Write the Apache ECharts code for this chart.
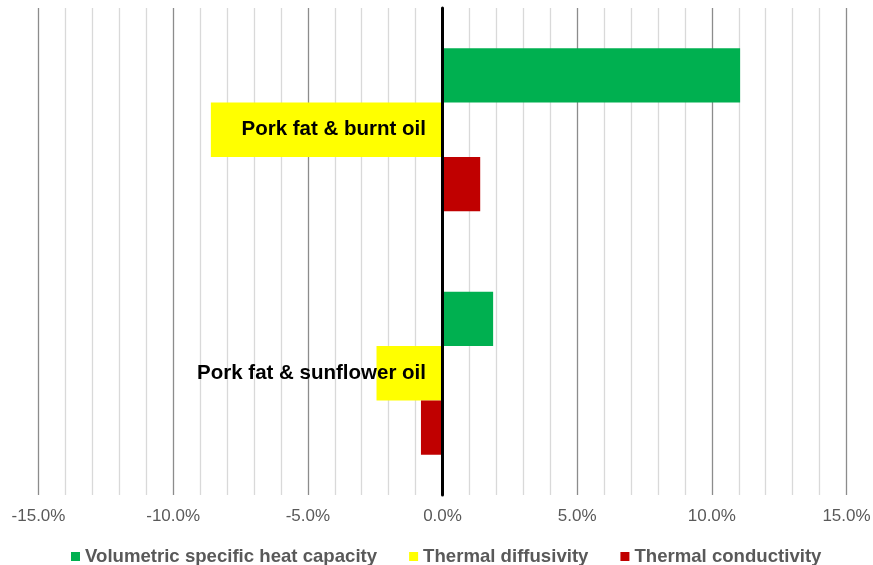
<!DOCTYPE html>
<html>
<head>
<meta charset="utf-8">
<script src="https://cdn.jsdelivr.net/npm/echarts@6/dist/echarts.min.js"></script>
<style>
html,body{margin:0;padding:0;background:#fff;}
#chart{width:873px;height:565px;}
</style>
</head>
<body>
<div id="chart"></div>
<script>
const categories = ['Pork fat & burnt oil', 'Pork fat & sunflower oil'];
const seriesNames = ['Volumetric specific heat capacity', 'Thermal diffusivity', 'Thermal conductivity'];
const heatCapacity = [11.05, 1.88];
const diffusivity = [-8.6, -2.45];
const conductivity = [1.4, -0.8];
const colors = ['#00B050', '#FFFF00', '#C00000'];

const FONT = '"Liberation Sans", Arial, sans-serif';
const chart = echarts.init(document.getElementById('chart'));
const values = [heatCapacity, diffusivity, conductivity];

chart.setOption({
  animation: false,
  grid: { left: 38.5, right: 26.5, top: 8, bottom: 70, containLabel: false, outerBoundsMode: 'none' },
  xAxis: {
    type: 'value',
    min: -15, max: 15, interval: 1,
    axisLine: { show: false },
    axisTick: { show: false },
    axisLabel: {
      color: '#595959', fontFamily: FONT, fontSize: 17, margin: 13,
      formatter: function (v) {
        if (Math.abs(v % 5) > 1e-9) return '';
        return v.toFixed(1) + '%';
      }
    },
    splitLine: {
      show: true,
      lineStyle: { color: ['#8c8c8c', '#d9d9d9', '#d9d9d9', '#d9d9d9', '#d9d9d9'], width: 1.3 }
    }
  },
  yAxis: {
    type: 'category',
    inverse: true,
    data: categories,
    z: 10,
    axisLine: { show: true, onZero: true, lineStyle: { color: '#000', width: 3 } },
    axisTick: { show: false },
    axisLabel: { color: '#000', fontFamily: FONT, fontSize: 20.5, fontWeight: 'bold', margin: -387.5, padding: [4, 0, 0, 0] },
    splitLine: { show: false }
  },
  legend: {
    show: true,
    left: 66,
    top: 542,
    icon: 'rect',
    itemWidth: 9, itemHeight: 9,
    itemGap: 32,
    textStyle: { color: '#595959', fontFamily: FONT, fontSize: 18.6, fontWeight: 'bold', padding: [0, 0, 0, 0] },
    data: seriesNames
  },
  series: seriesNames.map((name, i) => ({
    name: name,
    type: 'bar',
    data: values[i],
    barGap: '0%',
    barCategoryGap: '33%',
    itemStyle: { color: colors[i] }
  }))
});
</script>
</body>
</html>
